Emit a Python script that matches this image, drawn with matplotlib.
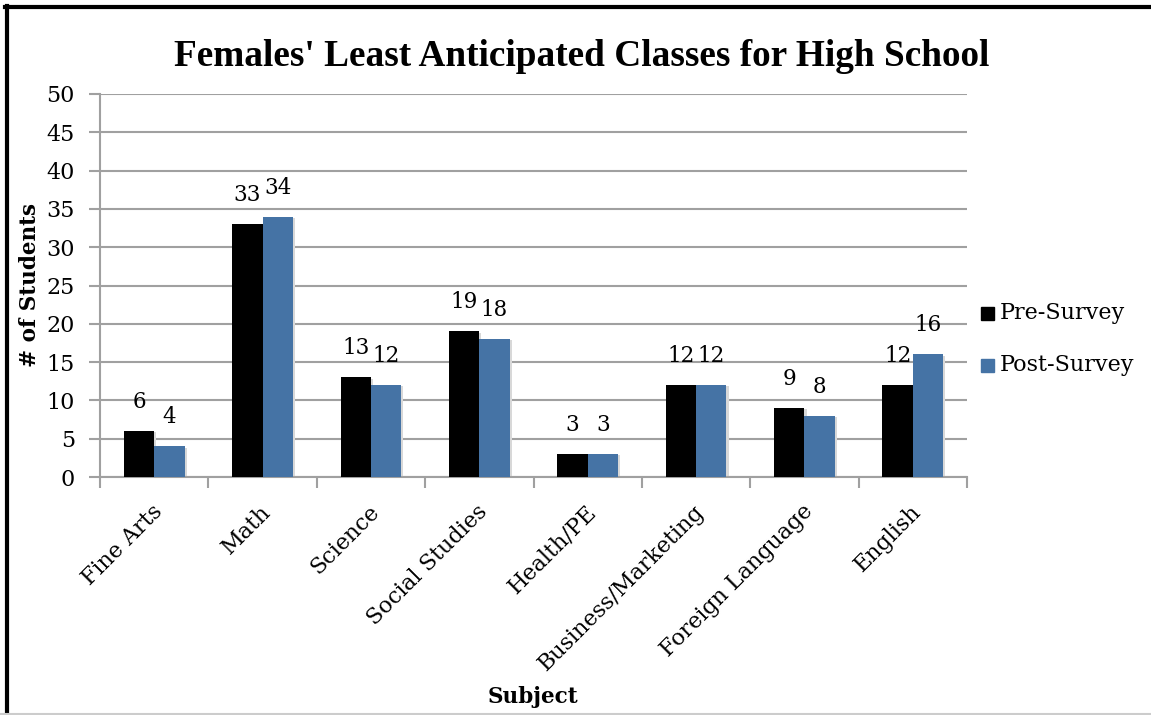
import matplotlib

matplotlib.use("Agg")
import matplotlib.pyplot as plt  # noqa: E402
import numpy as np  # noqa: E402
from matplotlib.lines import Line2D  # noqa: E402

# --- data ---------------------------------------------------------------

subjects = ["Fine Arts", "Math", "Science", "Social Studies", "Health/PE",
            "Business/Marketing", "Foreign Language", "English"]
pre_survey = [6, 33, 13, 19, 3, 12, 9, 12]
post_survey = [4, 34, 12, 18, 3, 12, 8, 16]
series_names = ["Pre-Survey", "Post-Survey"]

SERIF = ["DejaVu Serif"]
TITLE_FONT = ["Liberation Serif", "DejaVu Serif"]
BLUE = "#4573a5"
GRID = "#a0a0a0"

fig = plt.figure(figsize=(11.51, 7.15), dpi=100)
ax = fig.add_axes([100 / 1151, 1 - 477 / 715, 867 / 1151, 383 / 715])

x = np.arange(len(subjects))
w = 0.28
shadow = dict(color="#d8d8d8", zorder=1)
ax.bar(x - w / 2 + 0.02, pre_survey, w, bottom=-0.15, **shadow)
ax.bar(x + w / 2 + 0.02, post_survey, w, bottom=-0.15, **shadow)
b1 = ax.bar(x - w / 2, pre_survey, w, color="black", zorder=3)
b2 = ax.bar(x + w / 2, post_survey, w, color=BLUE, zorder=3)

# подписи значений над столбцами
for bars, vals in ((b1, pre_survey), (b2, post_survey)):
    for rect, v in zip(bars, vals):
        ax.annotate(str(v), xy=(rect.get_x() + rect.get_width() / 2, v),
                    xytext=(0, 13), textcoords="offset points",
                    ha="center", va="bottom", fontsize=15.5, family=SERIF)

ax.set_xlim(-0.5, len(subjects) - 0.5)
ax.set_ylim(0, 50)
ax.set_yticks(np.arange(0, 51, 5))
ax.yaxis.grid(True, color=GRID, linewidth=1.5, zorder=0)
ax.set_axisbelow(True)
for s in ("top", "right"):
    ax.spines[s].set_visible(False)
for s in ("left", "bottom"):
    ax.spines[s].set_color(GRID)
    ax.spines[s].set_linewidth(1.5)
ax.tick_params(axis="y", direction="out", length=8, width=1.5, color=GRID,
               labelsize=16, pad=10)
ax.set_xticks(np.arange(len(subjects) + 1) - 0.5)
ax.set_xticklabels([])
ax.tick_params(axis="x", direction="out", length=8, width=1.5, color=GRID)
for lbl in ax.get_yticklabels():
    lbl.set_family(SERIF)

for i, name in enumerate(subjects):
    ax.annotate(name, xy=(i, 0), xycoords="data", xytext=(-2, -17),
                textcoords="offset points", rotation=45, ha="right",
                va="top", rotation_mode="anchor", fontsize=16,
                family=SERIF, annotation_clip=False)

fig.text(582 / 1151, 1 - 57 / 715,
         "Females' Least Anticipated Classes for High School",
         ha="center", va="center", fontsize=26.8, fontweight="bold",
         family=TITLE_FONT)
fig.text(30 / 1151, 1 - 285 / 715, "# of Students", rotation=90,
         ha="center", va="center", fontsize=15.5, fontweight="bold",
         family=SERIF)
fig.text(533 / 1151, 1 - 697 / 715, "Subject", ha="center", va="center",
         fontsize=15.5, fontweight="bold", family=SERIF)

# legend
for yy, name, col in ((313, series_names[0], "black"),
                      (365, series_names[1], BLUE)):
    fig.patches.append(plt.Rectangle((981 / 1151, 1 - (yy + 7) / 715),
                                     13 / 1151, 13 / 715, color=col,
                                     transform=fig.transFigure))
    fig.text(1000 / 1151, 1 - yy / 715, name, ha="left", va="center",
             fontsize=16, family=SERIF)

# frame around the chart
fig.add_artist(Line2D([6.5 / 1151, 6.5 / 1151], [0, 1 - 6 / 715],
                      color="black", linewidth=3, transform=fig.transFigure))
fig.add_artist(Line2D([5 / 1151, 1], [1 - 6.5 / 715, 1 - 6.5 / 715],
                      color="black", linewidth=3, transform=fig.transFigure))
fig.add_artist(Line2D([0, 1], [1.5 / 715, 1.5 / 715],
                      color="#cccccc", linewidth=1.5, transform=fig.transFigure))

fig.savefig("out.png", dpi=100)
plt.close(fig)
